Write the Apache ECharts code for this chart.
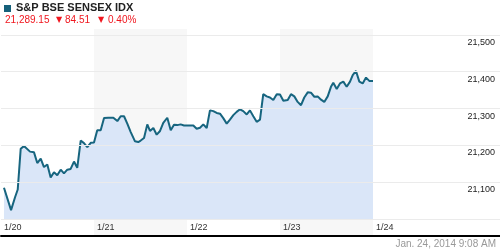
<!DOCTYPE html>
<html>
<head>
<meta charset="utf-8">
<script src="https://cdn.jsdelivr.net/npm/echarts@6/dist/echarts.min.js"></script>
<style>
  html, body { margin: 0; padding: 0; background: #fff; }
  #main { width: 500px; height: 250px; }
</style>
</head>
<body>
<div id="main"></div>
<script>
// day offsets (0 = 1/20 session open) and index level
var dayPos = [
  0.032, 0.108, 0.151, 0.180, 0.212, 0.247, 0.312, 0.355, 0.390, 0.427, 0.462, 0.498, 0.534,
  0.570, 0.605, 0.642, 0.677, 0.713, 0.749, 0.785, 0.820, 0.857, 0.892, 0.928, 0.965, 1.000,
  1.035, 1.072, 1.108, 1.154, 1.208, 1.251, 1.287, 1.323, 1.358, 1.395, 1.441, 1.476, 1.502,
  1.538, 1.573, 1.602, 1.638, 1.674, 1.710, 1.745, 1.788, 1.825, 1.860, 1.896, 1.932, 1.968,
  2.000, 2.032, 2.068, 2.104, 2.140, 2.175, 2.212, 2.247, 2.283, 2.319, 2.355, 2.390, 2.427,
  2.462, 2.498, 2.534, 2.570, 2.605, 2.642, 2.677, 2.713, 2.749, 2.785, 2.820, 2.857, 2.892,
  2.928, 2.965, 3.000, 3.036, 3.083, 3.118, 3.154, 3.190, 3.226, 3.261, 3.298, 3.333, 3.369,
  3.405, 3.441, 3.476, 3.513, 3.548, 3.573, 3.610, 3.645, 3.681, 3.717, 3.753, 3.782, 3.817,
  3.853, 3.889, 3.925, 3.960, 4.000
]
var levels = [
  21085, 21024, 21059, 21080, 21191, 21198, 21183, 21181, 21152, 21164, 21141, 21148, 21113,
  21127, 21119, 21134, 21124, 21134, 21136, 21156, 21139, 21213, 21206, 21195, 21207, 21208,
  21241, 21241, 21274, 21275, 21275, 21266, 21279, 21279, 21259, 21236, 21211, 21209, 21213,
  21220, 21257, 21239, 21247, 21229, 21239, 21261, 21275, 21241, 21256, 21255, 21257, 21254,
  21254, 21254, 21254, 21245, 21248, 21257, 21247, 21295, 21293, 21288, 21286, 21274, 21259,
  21270, 21282, 21291, 21298, 21293, 21284, 21295, 21279, 21264, 21270, 21339, 21333, 21330,
  21323, 21339, 21338, 21321, 21323, 21339, 21333, 21318, 21309, 21330, 21344, 21343, 21332,
  21333, 21324, 21318, 21333, 21359, 21370, 21353, 21368, 21373, 21359, 21373, 21391, 21402,
  21373, 21368, 21384, 21375, 21375
]
var dayLabels = ['1/20', '1/21', '1/22', '1/23', '1/24']
var shadedDays = [[1, 2], [3, 4]]

var lastPrice = '21,289.15'
var change = '84.51'
var changePct = '0.40%'
var stamp = 'Jan. 24, 2014 9:08 AM'

var font = "'Liberation Sans', Arial, sans-serif"
var red = '#f0161e'
var xMax = 499 / 93

var bands = shadedDays.map(function (d) {
  return [{ xAxis: d[0] }, { xAxis: d[1] }]
})

var chart = echarts.init(document.getElementById('main'))

var option = {
  animation: false,
  backgroundColor: '#fff',
  textStyle: { fontFamily: font },
  grid: [
    { left: 1, right: 0, top: 29, bottom: 31 },
    { left: 1, right: 0, top: 219, bottom: 14 }
  ],
  xAxis: [
    { type: 'value', gridIndex: 0, min: 0, max: xMax, show: false },
    {
      type: 'value', gridIndex: 1, min: 0, max: xMax, interval: 1, z: 10,
      axisLine: { show: true, lineStyle: { color: '#000', width: 2 } },
      axisTick: { show: false },
      splitLine: { show: false },
      axisLabel: {
        inside: true, align: 'left', verticalAlign: 'middle', margin: 8,
        padding: [0, 0, 0, 3], fontSize: 9, color: '#333', fontFamily: font,
        showMinLabel: true, showMaxLabel: false, hideOverlap: false,
        formatter: function (v) {
          return Number.isInteger(v) && dayLabels[v] ? dayLabels[v] : ''
        }
      }
    }
  ],
  yAxis: [
    {
      type: 'value', gridIndex: 0, position: 'right', z: 10,
      min: 21000, max: 21516, interval: 100,
      axisLine: { show: false },
      axisTick: { show: false },
      splitLine: { show: true, showMaxLine: false, lineStyle: { color: '#ebebeb', width: 1 } },
      axisLabel: {
        inside: true, margin: 5, verticalAlign: 'top', lineHeight: 11,
        padding: [2, 0, 0, 0], fontSize: 9, color: '#222', fontFamily: font,
        formatter: function (v) {
          if (v <= 21000 || v % 100 !== 0) return ''
          return v.toLocaleString('en-US')
        }
      }
    },
    { type: 'value', gridIndex: 1, min: 0, max: 1, show: false }
  ],
  series: [
    {
      type: 'line', xAxisIndex: 0, yAxisIndex: 0, data: [], z: 0, silent: true,
      markArea: { silent: true, itemStyle: { color: '#f7f7f7' }, data: bands }
    },
    {
      type: 'line', xAxisIndex: 1, yAxisIndex: 1, data: [], z: 0, silent: true,
      markArea: { silent: true, itemStyle: { color: '#f7f7f7' }, data: bands }
    },
    {
      name: 'S&P BSE SENSEX IDX',
      type: 'line', xAxisIndex: 0, yAxisIndex: 0, z: 3,
      symbol: 'none',
      lineStyle: { color: '#17657f', width: 2 },
      areaStyle: { color: '#dae6f8', opacity: 1 },
      data: dayPos.map(function (t, i) { return [t, levels[i]] })
    }
  ],
  graphic: [
    { type: 'rect', left: 4, top: 5, shape: { width: 7, height: 7 }, style: { fill: '#15607a' } },
    { type: 'text', left: 16, top: 2, style: { text: 'S&P BSE SENSEX IDX', font: 'bold 11px ' + font, fill: '#222' } },
    { type: 'text', left: 5, top: 15, style: { text: lastPrice, font: '10px ' + font, fill: red } },
    { type: 'text', left: 56, top: 16, style: { text: '▼', font: '8px DejaVu Sans', fill: red } },
    { type: 'text', left: 65, top: 15, style: { text: change, font: '10px ' + font, fill: red } },
    { type: 'text', left: 98, top: 16, style: { text: '▼', font: '8px DejaVu Sans', fill: red } },
    { type: 'text', left: 108, top: 15, style: { text: changePct, font: '10px ' + font, fill: red } },
    { type: 'text', right: 4, top: 239, style: { text: stamp, font: '10px ' + font, fill: '#999' } }
  ]
}

chart.setOption(option)
</script>
</body>
</html>
